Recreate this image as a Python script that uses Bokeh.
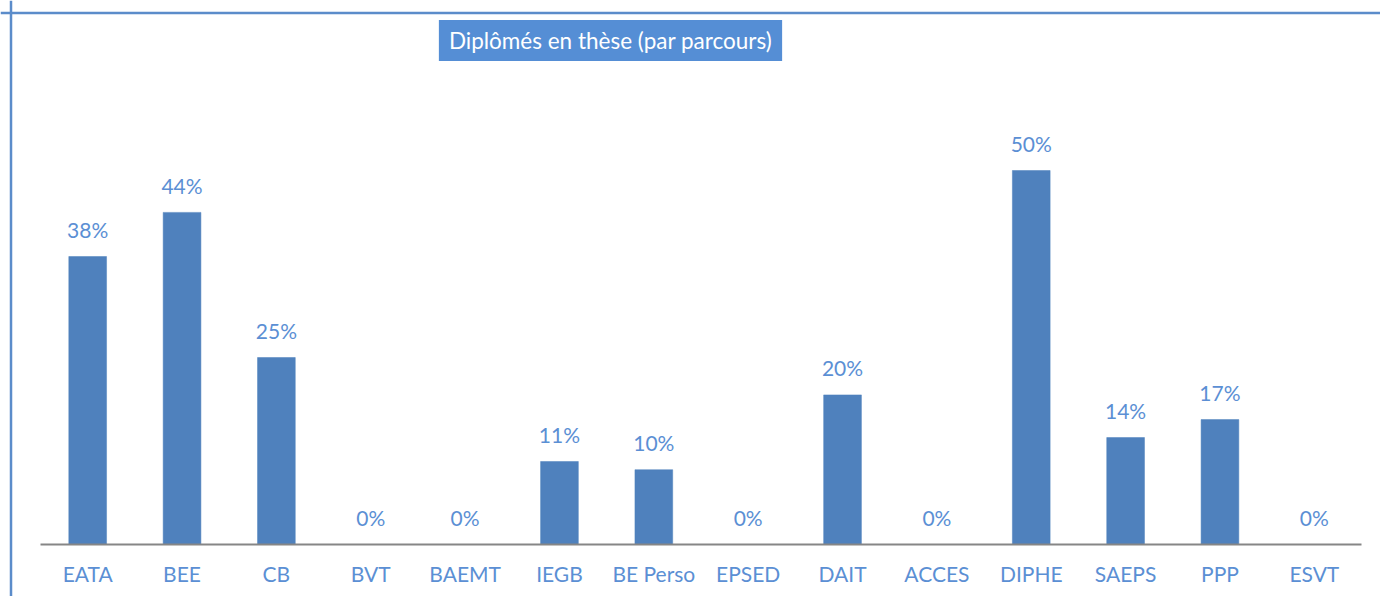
from bokeh.plotting import figure
from bokeh.models import Range1d, Span, Label, ColumnDataSource
from bokeh.core.properties import value
from bokeh.embed import file_html
from bokeh.resources import INLINE

categories = ["EATA", "BEE", "CB", "BVT", "BAEMT", "IEGB", "BE Perso", "EPSED",
              "DAIT", "ACCES", "DIPHE", "SAEPS", "PPP", "ESVT"]
values = [38.5, 44.4, 25.0, 0, 0, 11.1, 10.0, 0, 20.0, 0, 50.0, 14.3, 16.7, 0]
value_labels = ["38%", "44%", "25%", "0%", "0%", "11%", "10%", "0%", "20%", "0%",
                "50%", "14%", "17%", "0%"]
title_text = "Diplômés en thèse (par parcours)"

W, H = 1380, 596
n = len(categories)
px_x = 1321 / n
px_y = 374 / 50
x_start = -40 / px_x
x_end = n + 19 / px_x
y_end = 50 + 170 / px_y
y_start = -52 / px_y

src = ColumnDataSource(dict(
    x=[i + 0.5 for i in range(n)],
    top=values,
    zero=[0] * n,
    cat=categories,
    lab=value_labels,
))

p = figure(width=W, height=H, output_backend="svg", toolbar_location=None,
           x_range=Range1d(x_start, x_end), y_range=Range1d(y_start, y_end),
           min_border_left=0, min_border_right=0, min_border_top=0, min_border_bottom=0)
p.xaxis.visible = False
p.yaxis.visible = False
p.grid.visible = False
p.outline_line_color = None
p.background_fill_color = "white"
p.border_fill_color = "white"

blue_border = "#5b8cca"
p.add_layout(Span(location=x_start + 10.5 / px_x, dimension="height",
                  line_color=blue_border, line_width=2.5))
p.add_layout(Span(location=y_end - 12.5 / px_y, dimension="width",
                  line_color=blue_border, line_width=2.5))

p.vbar(x="x", top="top", bottom=0, width=0.4, source=src,
       fill_color="#4f81bd", line_color="#4f81bd", line_width=0.5)

p.segment(x0=0, x1=n, y0=0, y1=0, line_color="#868686", line_width=2)

txt_color = "#5b8fd4"
p.text(x="x", y="top", text="lab", source=src, text_align="center",
       text_baseline="alphabetic", y_offset=-27, text_font=value("Lato"),
       text_font_size="21px", text_color=txt_color)
p.text(x="x", y="zero", text="cat", source=src, text_align="center",
       text_baseline="alphabetic", y_offset=29, text_font=value("Lato"),
       text_font_size="21px", text_color=txt_color)

p.add_layout(Label(x=x_start + 610 / px_x, y=y_end - 40 / px_y,
                   text=title_text, text_align="center", text_baseline="middle",
                   text_font="Lato", text_font_size="22.5px", text_color="white",
                   background_fill_color="#558ed5", padding=(10, 7)))

open("out.html", "w").write(file_html(p, INLINE))
